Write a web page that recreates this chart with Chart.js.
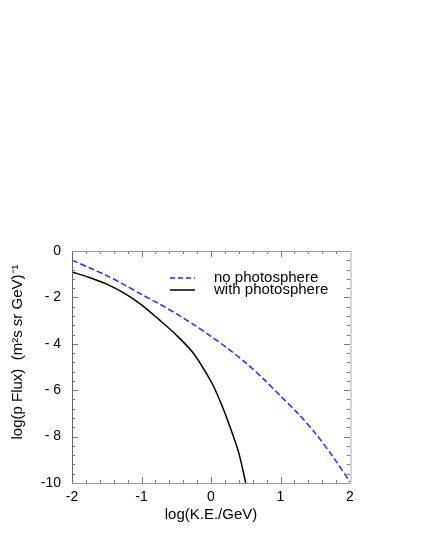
<!DOCTYPE html>
<html>
<head>
<meta charset="utf-8">
<script src="https://cdn.jsdelivr.net/npm/chart.js@4"></script>
<style>
  html, body { margin: 0; padding: 0; background: #fff; }
</style>
</head>
<body>
<canvas id="flux" width="422" height="546"></canvas>
<script>
// log(K.E./GeV) and log flux
const energyNoPhoto = [-2, -1.75, -1.5, -1.25, -1, -0.75, -0.5, -0.25, 0, 0.25, 0.5, 0.75, 1, 1.25, 1.5, 1.75, 2]
const fluxNoPhoto = [-0.4, -0.72, -1.06, -1.45, -1.87, -2.27, -2.7, -3.17, -3.68, -4.22, -4.82, -5.5, -6.25, -7.0, -7.85, -8.85, -9.95]

const energyWithPhoto = [-2, -1.75, -1.5, -1.25, -1, -0.75, -0.5, -0.25, 0, 0.1, 0.2, 0.3, 0.4, 0.5]
const fluxWithPhoto = [-0.9, -1.14, -1.43, -1.82, -2.32, -2.95, -3.62, -4.42, -5.62, -6.25, -6.98, -7.8, -8.7, -10]

const xTicks = [-2, -1, 0, 1, 2]
const yTicks = [0, -2, -4, -6, -8, -10]
const seriesLabels = ['no photosphere', 'with photosphere']

const FONT = '"Liberation Sans", Arial, sans-serif'

function toPoints(xs, ys) {
  return xs.map((x, i) => ({ x: x, y: ys[i] }))
}

// frame + inward ticks, like the original plotting program
const frameTicks = {
  id: 'frameTicks',
  afterDatasetsDraw(chart) {
    const { ctx, chartArea: { left, right, top, bottom } } = chart
    const xs = chart.scales.x
    const ys = chart.scales.y
    ctx.save()
    ctx.lineWidth = 1
    ctx.strokeStyle = '#777'
    // ticks on x (every 0.2, major every 1)
    for (let i = 0; i <= 20; i++) {
      const v = -2 + i * 0.2
      const px = Math.round(xs.getPixelForValue(v)) + 0.5
      const len = i % 5 === 0 ? 6 : 3
      ctx.beginPath()
      ctx.moveTo(px, bottom)
      ctx.lineTo(px, bottom - len)
      ctx.moveTo(px, top)
      ctx.lineTo(px, top + len)
      ctx.stroke()
    }
    // ticks on y (every 0.4, major every 2)
    for (let i = 0; i <= 25; i++) {
      const v = -10 + i * 0.4
      const py = Math.round(ys.getPixelForValue(v)) + 0.5
      const len = i % 5 === 0 ? 6 : 3
      ctx.beginPath()
      ctx.moveTo(left, py)
      ctx.lineTo(left + len, py)
      ctx.moveTo(right, py)
      ctx.lineTo(right - len, py)
      ctx.stroke()
    }
    // frame
    ctx.strokeStyle = '#666'
    ctx.beginPath()
    ctx.moveTo(left + 0.5, top)
    ctx.lineTo(left + 0.5, bottom)
    ctx.stroke()
    ctx.strokeStyle = '#999'
    ctx.beginPath()
    ctx.moveTo(left, top + 0.5)
    ctx.lineTo(right, top + 0.5)
    ctx.moveTo(left, bottom + 0.5)
    ctx.lineTo(right, bottom + 0.5)
    ctx.stroke()
    ctx.strokeStyle = '#d4d4d4'
    ctx.lineWidth = 2
    ctx.beginPath()
    ctx.moveTo(right + 1, top)
    ctx.lineTo(right + 1, bottom + 1)
    ctx.stroke()

    // y title
    ctx.fillStyle = '#000'
    ctx.font = '15px ' + FONT
    ctx.textAlign = 'center'
    ctx.textBaseline = 'middle'
    ctx.translate(18, 352)
    ctx.rotate(-Math.PI / 2)
    ctx.fillText('log(p Flux)  (m²s sr GeV)⁻¹', 0, 0)
    ctx.restore()
  },
}

// legend inside the plot, top right
const insideLegend = {
  id: 'insideLegend',
  afterDraw(chart) {
    const { ctx } = chart
    const rows = [
      { y: 278, color: 'rgb(40,40,255)', dash: [5, 3] },
      { y: 290, color: '#000', dash: [] },
    ]
    ctx.save()
    ctx.font = '15px ' + FONT
    ctx.textBaseline = 'middle'
    ctx.textAlign = 'left'
    rows.forEach((r, i) => {
      ctx.strokeStyle = r.color
      ctx.lineWidth = 1.5
      ctx.setLineDash(r.dash)
      ctx.beginPath()
      ctx.moveTo(170, r.y)
      ctx.lineTo(195, r.y)
      ctx.stroke()
      ctx.setLineDash([])
      ctx.fillStyle = '#000'
      ctx.fillText(seriesLabels[i], 214, r.y)
    })
    ctx.restore()
  },
}

const ctx = document.getElementById('flux').getContext('2d')
// eslint-disable-next-line no-unused-vars
const fluxChart = new Chart(ctx, {
  type: 'line',
  data: {
    datasets: [
      {
        label: seriesLabels[0],
        data: toPoints(energyNoPhoto, fluxNoPhoto),
        borderColor: 'rgb(40,40,255)',
        borderWidth: 1.5,
        borderDash: [6, 3],
        pointRadius: 0,
        tension: 0.3,
        fill: false,
      },
      {
        label: seriesLabels[1],
        data: toPoints(energyWithPhoto, fluxWithPhoto),
        borderColor: '#000',
        borderWidth: 1.5,
        pointRadius: 0,
        tension: 0.3,
        fill: false,
      },
    ],
  },
  options: {
    responsive: false,
    animation: false,
    layout: {
      padding: { top: 251, right: 72, left: 0, bottom: 0 },
    },
    scales: {
      x: {
        type: 'linear',
        min: -2,
        max: 2,
        afterFit: (scale) => { scale.height = 63 },
        afterBuildTicks: (scale) => { scale.ticks = xTicks.map((v) => ({ value: v })) },
        grid: { display: false, drawTicks: false },
        border: { display: false },
        ticks: {
          padding: 6,
          color: '#000',
          maxRotation: 0,
          font: { family: FONT, size: 14 },
          callback: (v) => String(v),
        },
        title: {
          display: true,
          text: 'log(K.E./GeV)',
          color: '#000',
          font: { family: FONT, size: 15 },
          padding: { top: 0, bottom: 22 },
        },
      },
      y: {
        type: 'linear',
        min: -10,
        max: 0,
        afterFit: (scale) => { scale.width = 72 },
        afterBuildTicks: (scale) => { scale.ticks = yTicks.map((v) => ({ value: v })) },
        grid: { display: false, drawTicks: false },
        border: { display: false },
        ticks: {
          padding: 11,
          color: '#000',
          font: { family: FONT, size: 14 },
          callback: (v) => {
            if (v === 0) return '0'
            if (v > -10) return '- ' + Math.abs(v)
            return String(v)
          },
        },
      },
    },
    plugins: {
      legend: { display: false },
      tooltip: { enabled: false },
    },
  },
  plugins: [frameTicks, insideLegend],
})
</script>
</body>
</html>
